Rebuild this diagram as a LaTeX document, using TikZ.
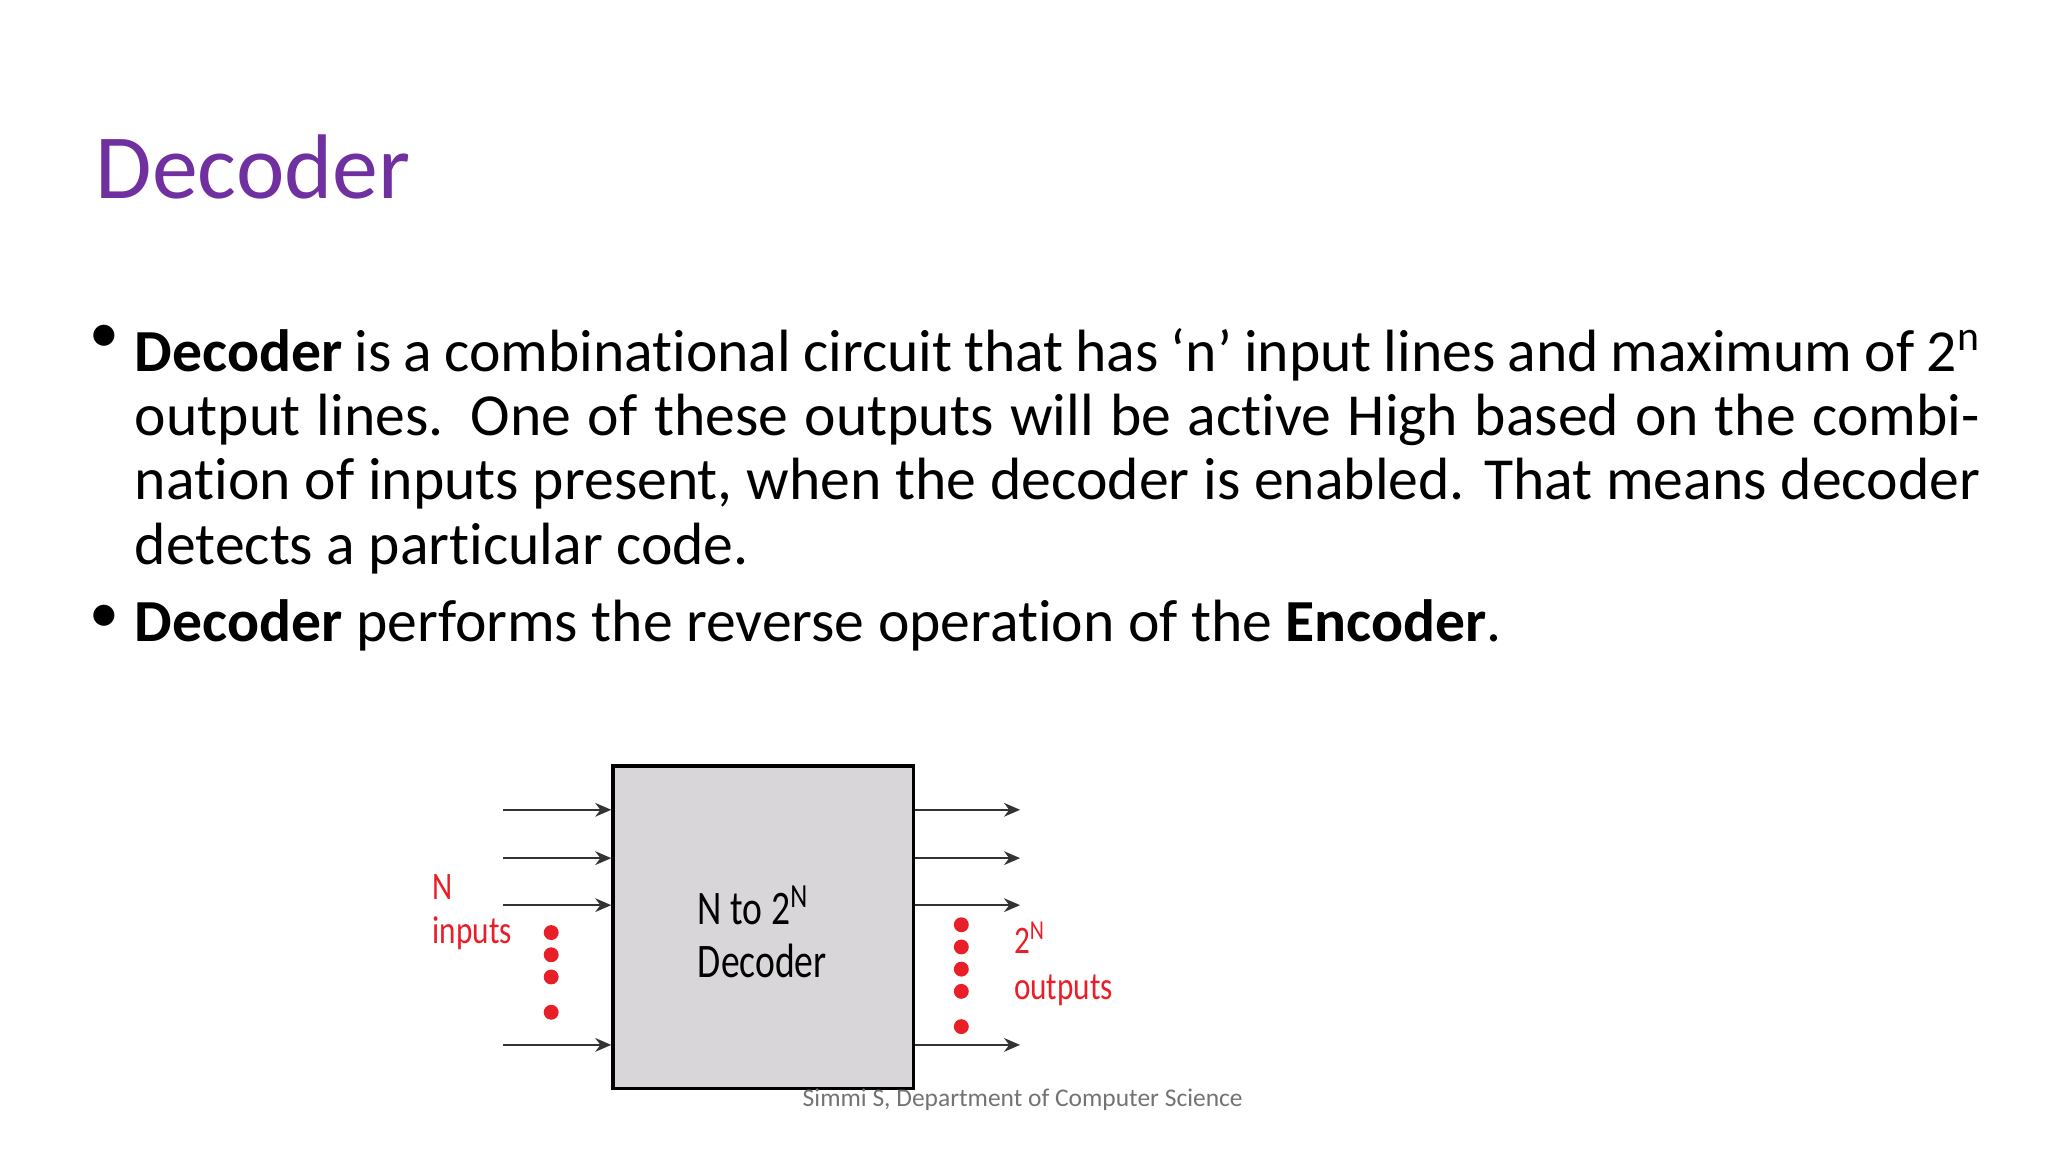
\documentclass[tikz,border=0pt]{standalone}
\usepackage{fontspec}
\setmainfont[Ligatures=NoCommon]{Carlito}
\usetikzlibrary{arrows.meta}
\definecolor{titlepurple}{RGB}{112,48,160}
\definecolor{boxgray}{RGB}{216,214,216}
\definecolor{dotred}{RGB}{232,30,40}
\begin{document}
\begin{tikzpicture}
 [
  x=0.02cm, y=-0.02cm,
  >={Stealth[length=7pt,width=6pt]},
  line/.style  = {->, thick, black!80},
  reddot/.style = {circle, fill = dotred, inner sep = 0pt, minimum size = 6.5pt},
  label/.style = {text = dotred, font = \fontsize{17}{20}\selectfont\addfontfeatures{FakeStretch=0.8}, anchor = base west, inner sep = 0pt},
  body/.style  = {font = \fontsize{26}{28}\selectfont},
 ]
 \useasboundingbox (0,0) rectangle (1568,882);
 % title and text
 \node[anchor=base west, inner sep=0pt, text=titlepurple, font=\fontsize{40}{46}\selectfont] (title) at (73,152) {Decoder};
 \node[body, anchor=north west, inner sep=0pt, text width=28.26cm, align=justify] (first) at (103,251)
  {\textbf{Decoder} is a combinational circuit that has ‘n’ input lines and maximum of 2\textsuperscript{n} output lines. One of these outputs will be active High based on the combination of inputs present, when the decoder is enabled. That means decoder detects a particular code.};
 \node[body, anchor=base west, inner sep=0pt] (second) at (103,491)
  {\textbf{Decoder} performs the reverse operation of the \textbf{Encoder}.};
 \node[body, anchor=base] (b1) at (80,270) {•};
 \node[body, anchor=base] (b2) at (80,484) {•};
 % decoder block
 \node[draw, line width=1.6pt, fill=boxgray, minimum width=4.6cm, minimum height=4.94cm, anchor=north west] (dec) at (468,585) {};
 \node[anchor=north west, align=left, inner sep=0pt, font=\fontsize{21}{22.7}\selectfont\addfontfeatures{FakeStretch=0.78}] (name) at (534,678)
  {N to 2\textsuperscript{N}\\Decoder};
 \foreach \y in {620,657,693,800}
 {
  \coordinate (in\y) at (385,\y);
  \coordinate (out\y) at (781,\y);
  \draw[line] (in\y) -- (dec.west |- in\y);
  \draw[line] (dec.east |- out\y) -- (out\y);
 }
 \foreach \y in {714,731,748,775}
  \node[reddot] (di\y) at (422,\y) {};
 \foreach \y in {708,725,742,759,786}
  \node[reddot] (do\y) at (736,\y) {};
 \node[label] (nin) at (331,689) {N};
 \node[label] (inp) at (331,722) {inputs};
 \node[label] (nout) at (776,730) {2\textsuperscript{N}};
 \node[label] (outp) at (776,765) {outputs};
 % footer
 \node[text=black!55, font=\fontsize{11.1}{13}\selectfont] (foot) at (783,842) {Simmi S, Department of Computer Science};
\end{tikzpicture}
\end{document}
